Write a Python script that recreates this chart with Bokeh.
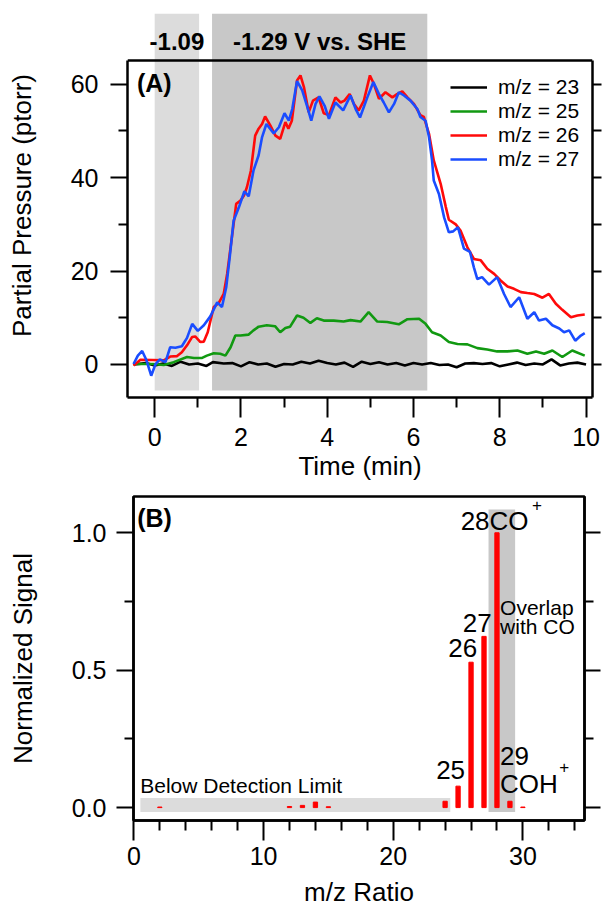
from bokeh.plotting import figure
from bokeh.models import (Range1d, FixedTicker, LinearAxis, Span, Legend, LegendItem,
                          PrintfTickFormatter)
from bokeh.embed import file_html
from bokeh.resources import INLINE
from bokeh.core.properties import value

FONT = "Liberation Sans"

# ---------------- Panel A data (time in min, partial pressure in ptorr) ----------------
t23 = [-0.49, -0.2, 0.0, 0.2, 0.4, 0.6, 0.8, 1.0, 1.2, 1.35, 1.6, 1.8, 2.0, 2.2, 2.4, 2.6, 2.8, 3.0,
       3.2, 3.4, 3.6, 3.8, 4.0, 4.2, 4.4, 4.6, 4.8, 5.0, 5.2, 5.4, 5.6, 5.8, 6.0, 6.2, 6.4, 6.6,
       6.8, 7.0, 7.2, 7.4, 7.6, 7.8, 8.0, 8.2, 8.4, 8.6, 8.8, 9.0, 9.2, 9.4, 9.6, 9.8, 10.0]
v23 = [0.0, 0.3, -0.2, 0.2, -0.3, 0.6, 0.0, 0.2, -0.3, 0.5, 0.2, 0.3, -0.4, 0.5, 0.0, 0.2, -0.5, 0.1,
       0.0, 0.6, 0.2, 0.8, 0.3, 0.0, 0.4, -0.5, 0.6, 0.1, 0.5, 0.0, 0.3, -0.2, 0.3, 0.0, 0.3, -0.1,
       0.0, -0.6, 0.2, 0.3, 0.1, 0.3, -0.4, 0.0, 0.4, -0.1, 0.2, 0.0, 1.1, -0.2, 0.2, 0.4, 0.0]

t25 = [-0.49, -0.03, 0.21, 0.44, 0.75, 0.91, 1.10, 1.21, 1.37, 1.52, 1.64, 1.76, 1.87, 1.99, 2.18,
       2.29, 2.41, 2.60, 2.79, 2.91, 3.03, 3.14, 3.30, 3.45, 3.61, 3.76, 3.92, 4.15, 4.38, 4.54,
       4.77, 4.96, 5.16, 5.39, 5.66, 5.86, 6.13, 6.28, 6.43, 6.63, 6.82, 7.02, 7.25, 7.48, 7.71,
       7.94, 8.18, 8.41, 8.64, 8.84, 9.03, 9.22, 9.45, 9.68, 9.97]
v25 = [0.1, 0.1, -0.1, 0.5, 1.6, 1.4, 1.4, 1.9, 2.4, 2.3, 1.9, 3.7, 6.2, 6.2, 6.4,
       7.3, 8.1, 8.4, 8.2, 6.9, 7.8, 8.1, 10.5, 10.0, 8.9, 9.9, 9.4, 9.4, 9.2, 9.5,
       9.2, 11.2, 9.2, 9.1, 8.6, 9.7, 9.8, 8.7, 6.9, 6.2, 4.8, 4.4, 4.3, 3.5, 3.2,
       2.8, 2.8, 3.0, 2.3, 2.8, 2.3, 3.0, 1.6, 3.0, 1.9]

t26 = [-0.49, -0.33, 0.21, 0.36, 0.52, 0.63, 0.75, 0.87, 0.94, 1.06, 1.14, 1.23, 1.37, 1.48, 1.60,
       1.68, 1.76, 1.83, 1.89, 1.99, 2.07, 2.14, 2.23, 2.33, 2.41, 2.49, 2.56, 2.68, 2.80, 2.91,
       3.03, 3.10, 3.18, 3.30, 3.38, 3.46, 3.57, 3.67, 3.80, 3.92, 4.04, 4.19, 4.31, 4.40, 4.52,
       4.62, 4.73, 4.85, 4.99, 5.08, 5.20, 5.35, 5.51, 5.62, 5.74, 5.86, 6.01, 6.16, 6.24, 6.36,
       6.47, 6.63, 6.75, 6.82, 6.98, 7.09, 7.25, 7.40, 7.56, 7.71, 7.87, 8.02, 8.18, 8.33, 8.49,
       8.64, 8.80, 8.99, 9.14, 9.30, 9.45, 9.65, 9.80, 9.97]
v26 = [-0.2, 1.0, 0.9, 1.7, 1.8, 2.6, 4.1, 5.9, 6.0, 4.8, 4.9, 6.9, 12.3, 13.1, 15.1,
       19.4, 25.1, 30.1, 34.4, 35.1, 36.2, 38.0, 41.5, 49.0, 50.5, 51.5, 53.1, 51.2, 49.0, 48.3,
       51.9, 50.5, 52.2, 60.8, 61.9, 59.4, 54.0, 56.5, 57.2, 53.8, 53.4, 57.2, 56.1, 56.5, 57.9,
       55.8, 54.4, 56.5, 61.9, 60.1, 56.9, 58.3, 57.2, 57.9, 58.5, 57.2, 55.8, 53.4, 53.0, 49.4,
       43.7, 38.7, 33.7, 31.0, 30.0, 28.7, 25.1, 22.6, 22.3, 20.5, 19.4, 18.0, 16.7, 16.2, 15.5,
       15.3, 15.1, 14.3, 15.1, 13.0, 11.7, 10.1, 10.5, 10.7]

t27 = [-0.49, -0.39, -0.29, -0.19, -0.08, 0.02, 0.12, 0.25, 0.36, 0.48, 0.63, 0.75, 0.87, 1.0,
       1.14, 1.29, 1.45, 1.56, 1.66, 1.74, 1.83, 1.95, 2.08, 2.18, 2.29, 2.41, 2.49, 2.59, 2.76,
       2.88, 3.01, 3.11, 3.19, 3.30, 3.42, 3.54, 3.63, 3.73, 3.82, 3.94, 4.04, 4.19, 4.37, 4.54,
       4.66, 4.76, 4.93, 5.07, 5.20, 5.31, 5.43, 5.55, 5.66, 5.78, 5.93, 6.09, 6.16, 6.28, 6.36,
       6.43, 6.47, 6.59, 6.71, 6.82, 6.92, 7.03, 7.17, 7.31, 7.40, 7.48, 7.59, 7.75, 7.94, 8.10,
       8.25, 8.45, 8.64, 8.80, 8.91, 9.07, 9.22, 9.38, 9.49, 9.61, 9.75, 9.88, 9.97]
v27 = [0.1, 1.9, 2.9, 0.9, -2.4, 0.1, 1.1, 0.5, 3.7, 3.6, 3.9, 5.7, 8.7, 7.2,
       8.4, 10.3, 13.3, 12.3, 16.6, 23.0, 30.8, 33.6, 37.1, 36.0, 41.5, 44.8, 48.7, 51.5, 49.5,
       50.8, 53.8, 52.2, 54.7, 60.7, 58.7, 55.1, 52.2, 55.8, 57.4, 55.4, 52.6, 56.1, 54.4, 57.6,
       54.7, 52.9, 57.2, 60.5, 57.9, 56.1, 54.0, 55.8, 58.3, 57.6, 56.5, 54.7, 53.0, 52.2, 48.7,
       43.7, 39.4, 36.5, 31.5, 28.3, 28.5, 29.4, 24.8, 24.1, 20.8, 18.3, 18.7, 17.1, 18.7, 15.1,
       12.3, 14.4, 9.8, 11.2, 9.4, 9.8, 8.4, 7.7, 6.9, 7.3, 5.1, 6.2, 6.7]

series_labels = ["m/z = 23", "m/z = 25", "m/z = 26", "m/z = 27"]
series_colors = ["#000000", "#119911", "#ff0a0a", "#1a4dff"]

# potential steps (min)
step_start = [0.0, 1.33]
step_end = [1.03, 6.32]
step_labels = ["-1.09", "-1.29 V vs. SHE"]
step_colors = ["#dcdcdc", "#c8c8c8"]

# ---------------- Panel B data ----------------
mz = [2, 12, 13, 14, 15, 24, 25, 26, 27, 28, 29, 30]
signal = [0.002, 0.004, 0.008, 0.02, 0.003, 0.023, 0.078, 0.529, 0.623, 1.0, 0.023, 0.002]


def style_axis(ax, tick_out, minor_out, lab_size="25px", title_size="26px", labels=True):
    ax.axis_line_width = 2.5
    ax.axis_line_color = "black"
    ax.major_tick_line_width = 2
    ax.minor_tick_line_width = 2
    ax.major_tick_out = tick_out
    ax.major_tick_in = 0
    ax.minor_tick_out = minor_out
    ax.minor_tick_in = 0
    ax.major_label_text_font = FONT
    ax.major_label_text_font_size = lab_size
    ax.major_label_text_color = "black" if labels else None
    ax.axis_label_text_font = FONT
    ax.axis_label_text_font_size = title_size
    ax.axis_label_text_font_style = "normal"
    ax.axis_label_text_color = "black"


# ---------------- Panel A ----------------
XA0, XA1 = -0.63, 10.15
YA0, YA1, YA_TOP = -7.07, 65.1, 75.16

pA = figure(width=605, height=492, output_backend="svg", toolbar_location=None,
            x_range=Range1d(XA0, XA1), y_range=Range1d(YA0, YA_TOP),
            min_border_left=127, min_border_right=13, min_border_top=13, min_border_bottom=95,
            x_axis_location=None, y_axis_location=None)
pA.outline_line_color = None
pA.xgrid.visible = False
pA.ygrid.visible = False

pA.quad(left=step_start, right=step_end, bottom=-5.57, top=YA_TOP, color=step_colors,
        line_color=None)
step_mid = [(a + b) / 2 for a, b in zip(step_start, step_end)]
pA.text(x=step_mid, y=[69.2] * 2, text=step_labels, text_align="center",
        text_baseline="middle", text_font=value(FONT), text_font_style="bold",
        text_font_size="24px", text_color="black")

renderers = []
for tt, vv, c in zip([t23, t25, t26, t27], [v23, v25, v26, v27], series_colors):
    renderers.append(pA.line(tt, vv, line_color=c, line_width=2.6))

pA.text(x=[-0.41], y=[60.2], text=["(A)"], text_align="left", text_baseline="middle",
        text_font=value(FONT), text_font_style="bold", text_font_size="25px")

pA.add_layout(Span(location=YA1, dimension="width", line_color="black", line_width=2.5))

xa = LinearAxis(ticker=FixedTicker(ticks=[0, 2, 4, 6, 8, 10], minor_ticks=[1, 3, 5, 7, 9]),
                axis_label="Time (min)")
style_axis(xa, 20, 10)
xa.major_label_standoff = 10
xa.axis_label_standoff = 2
pA.add_layout(xa, "below")

ya_ticker = FixedTicker(ticks=[0, 20, 40, 60], minor_ticks=[10, 30, 50])
ya = LinearAxis(ticker=ya_ticker, axis_label="Partial Pressure (ptorr)", bounds=(YA0, YA1))
style_axis(ya, 17, 9)
ya.major_label_standoff = 12
ya.axis_label_standoff = 31
pA.add_layout(ya, "left")

ya2 = LinearAxis(ticker=ya_ticker, bounds=(YA0, YA1))
style_axis(ya2, 9, 9, labels=False)
ya2.major_label_standoff = 0
pA.add_layout(ya2, "right")

legend = Legend(items=[LegendItem(label=l, renderers=[r]) for l, r in zip(series_labels, renderers)],
                location=(323, 226), orientation="vertical",
                background_fill_alpha=0, border_line_color=None,
                label_text_font=FONT, label_text_font_size="21px", label_text_color="black",
                glyph_width=37, glyph_height=24, label_height=24, label_width=95,
                label_standoff=11, spacing=0, padding=0, margin=0)
pA.add_layout(legend)

# ---------------- Panel B ----------------
pB = figure(width=605, height=417, output_backend="svg", toolbar_location=None,
            x_range=Range1d(-0.03, 34.75), y_range=Range1d(-0.047, 1.132),
            min_border_left=133, min_border_right=21, min_border_top=4, min_border_bottom=87,
            x_axis_location=None, y_axis_location=None)
pB.outline_line_color = "black"
pB.outline_line_width = 2.5
pB.xgrid.visible = False
pB.ygrid.visible = False

# shaded regions
pB.quad(left=[0.5], right=[24.4], bottom=[-0.016], top=[0.035], color="#dcdcdc", line_color=None)
pB.quad(left=[27.35], right=[29.4], bottom=[-0.016], top=[1.085], color="#c8c8c8", line_color=None)

pB.vbar(x=mz, top=signal, bottom=0, width=0.33, color="#ff0000")

ann_font = dict(text_font=value(FONT), text_color="black")
pB.text(x=[0.25], y=[1.053], text=["(B)"], text_align="left", text_baseline="middle",
        text_font_style="bold", text_font_size="25px", **ann_font)
pB.text(x=[25.2], y=[1.042], text=["28CO"], text_align="left", text_baseline="middle",
        text_font_size="26px", **ann_font)
pB.text(x=[30.7], y=[1.10], text=["+"], text_align="left", text_baseline="middle",
        text_font_size="17px", **ann_font)
pB.text(x=[27.6, 26.47, 25.54], y=[0.673, 0.582, 0.135], text=["27", "26", "25"],
        text_align="right", text_baseline="middle", text_font_size="26px", **ann_font)
pB.text(x=[28.24], y=[0.189], text=["29"], text_align="left", text_baseline="middle",
        text_font_size="26px", **ann_font)
pB.text(x=[28.24], y=[0.087], text=["COH"], text_align="left", text_baseline="middle",
        text_font_size="26px", **ann_font)
pB.text(x=[32.8], y=[0.148], text=["+"], text_align="left", text_baseline="middle",
        text_font_size="17px", **ann_font)
pB.text(x=[28.24, 28.24], y=[0.727, 0.658], text=["Overlap", "with CO"], text_align="left",
        text_baseline="middle", text_font_size="21px", **ann_font)
pB.text(x=[0.49], y=[0.081], text=["Below Detection Limit"], text_align="left",
        text_baseline="middle", text_font_size="21px", **ann_font)

xb = LinearAxis(ticker=FixedTicker(ticks=[0, 10, 20, 30],
                                   minor_ticks=[2, 4, 6, 8, 12, 14, 16, 18, 22, 24, 26, 28, 32, 34]),
                axis_label="m/z Ratio")
style_axis(xb, 20, 10)
xb.major_label_standoff = 6
xb.axis_label_standoff = 9
pB.add_layout(xb, "below")

yb_ticker = FixedTicker(ticks=[0, 0.5, 1.0], minor_ticks=[0.25, 0.75])
yb = LinearAxis(ticker=yb_ticker, axis_label="Normalized Signal",
                formatter=PrintfTickFormatter(format="%.1f"))
style_axis(yb, 17, 9)
yb.major_label_standoff = 10
yb.axis_label_standoff = 31
pB.add_layout(yb, "left")

yb2 = LinearAxis(ticker=yb_ticker)
style_axis(yb2, 16, 9, labels=False)
yb2.major_label_standoff = 0
pB.add_layout(yb2, "right")

open("out.html", "w").write(file_html([pA, pB], INLINE))
